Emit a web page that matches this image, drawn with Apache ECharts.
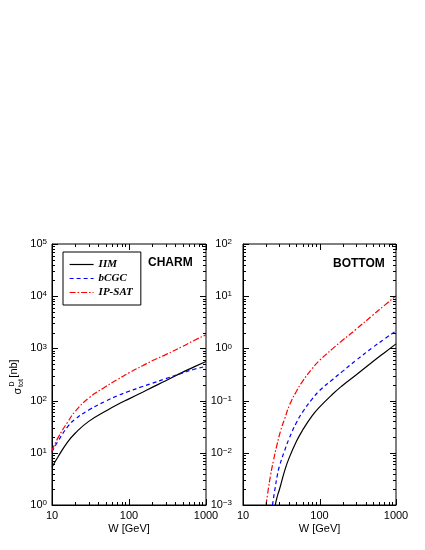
<!DOCTYPE html>
<html>
<head>
<meta charset="utf-8">
<script src="https://cdn.jsdelivr.net/npm/echarts@6/dist/echarts.min.js"></script>
<style>
  html, body { margin: 0; padding: 0; background: #fff; }
  #chart { width: 425px; height: 550px; }
</style>
</head>
<body>
<div id="chart"></div>
<script>
// charm panel (W in GeV, sigma in nb)
const charmW = [10, 12, 16, 20, 30, 50, 70, 100, 150, 200, 300, 500, 700, 1000]
const charmIIM = [5.3, 8.4, 16.2, 23.7, 40, 63, 83, 108, 145, 179, 240, 351, 442, 562]
const charmBCGC = [10.5, 16.8, 31.6, 44, 66, 98, 123, 151, 186, 214, 263, 339, 398, 452]
const charmIPSAT = [11, 19.5, 39, 62, 112, 186, 251, 340, 465, 578, 760, 1100, 1420, 1820]

// bottom panel, curves start where they leave the 1e-3 floor
const bottomW_IIM = [26.4, 28, 30, 35, 40, 50, 60, 80, 100, 150, 200, 300, 500, 700, 1000]
const bottomIIM = [0.001, 0.00145, 0.002, 0.0045, 0.0079, 0.0166, 0.027, 0.051, 0.075, 0.135, 0.195, 0.31, 0.56, 0.82, 1.22]
const bottomW_BCGC = [24.3, 26, 28, 30, 35, 40, 50, 60, 80, 100, 150, 200, 300, 500, 700, 1000]
const bottomBCGC = [0.001, 0.0019, 0.0036, 0.0056, 0.011, 0.0186, 0.038, 0.06, 0.107, 0.155, 0.257, 0.363, 0.59, 1.05, 1.5, 2.16]
const bottomW_IPSAT = [20, 21, 23, 25, 28, 31, 35, 41, 50, 60, 80, 100, 150, 200, 300, 500, 700, 1000]
const bottomIPSAT = [0.001, 0.00166, 0.0038, 0.0071, 0.0148, 0.0263, 0.0447, 0.085, 0.151, 0.234, 0.407, 0.589, 1.0, 1.43, 2.32, 4.37, 6.6, 10.2]

const seriesNames = ['IIM', 'bCGC', 'IP-SAT']
const panelTitles = ['CHARM', 'BOTTOM']
const xRange = [10, 1000]
const charmRange = [1, 1e5]
const bottomRange = [1e-3, 1e2]

const sans = 'Liberation Sans'
const pairs = (xs, ys) => xs.map((x, i) => [x, ys[i]])

// log tick values 1..9 x 10^k inside a range
const logTicks = (lo, hi) => {
  const out = []
  for (let k = Math.round(Math.log10(lo)); k < Math.round(Math.log10(hi)); k++) {
    for (let m = 1; m <= 9; m++) out.push(m * Math.pow(10, k))
  }
  out.push(hi)
  return out
}

const lineStyles = [
  { color: '#000000', width: 1.2, type: 'solid' },
  { color: '#0000ff', width: 1.2, type: [4, 3] },
  { color: '#ff0000', width: 1.2, type: [6, 2, 1.5, 2] }
]

const curve = (grid, idx, data) => ({
  name: seriesNames[idx],
  type: 'line',
  xAxisIndex: grid,
  yAxisIndex: grid,
  data: data,
  symbol: 'none',
  smooth: 0.5,
  lineStyle: lineStyles[idx],
  itemStyle: { color: lineStyles[idx].color },
  z: 3
})

// ticks drawn inside the frame on all four sides
const tickSeries = (grid, axis, vals, at) => ({
  type: 'custom',
  xAxisIndex: grid,
  yAxisIndex: grid,
  silent: true,
  z: 4,
  data: vals.map(v => axis === 'x' ? [v, at] : [at, v]),
  renderItem: (params, api) => {
    const cs = params.coordSys
    const v = api.value(axis === 'x' ? 0 : 1)
    const p = api.coord([api.value(0), api.value(1)])
    const lg = Math.log10(v)
    const len = Math.abs(lg - Math.round(lg)) < 1e-6 ? 6 : 3
    const style = { stroke: '#000', lineWidth: 1 }
    if (axis === 'x') {
      const x = Math.round(p[0]) + 0.5
      const b = cs.y + cs.height
      return { type: 'group', children: [
        { type: 'line', shape: { x1: x, y1: b, x2: x, y2: b - len }, style },
        { type: 'line', shape: { x1: x, y1: cs.y, x2: x, y2: cs.y + len }, style }
      ] }
    }
    const y = Math.round(p[1]) + 0.5
    const r = cs.x + cs.width
    return { type: 'group', children: [
      { type: 'line', shape: { x1: cs.x, y1: y, x2: cs.x + len, y2: y }, style },
      { type: 'line', shape: { x1: r, y1: y, x2: r - len, y2: y }, style }
    ] }
  }
})

const xAxisFor = (grid) => ({
  type: 'log',
  logBase: 10,
  gridIndex: grid,
  min: xRange[0],
  max: xRange[1],
  name: 'W [GeV]',
  nameLocation: 'middle',
  nameGap: 18,
  nameTextStyle: { fontFamily: sans, fontSize: 11, color: '#000' },
  axisLine: { lineStyle: { color: '#000', width: 1 } },
  axisTick: { show: false },
  splitLine: { show: false },
  axisLabel: {
    fontFamily: sans, fontSize: 11, color: '#000', margin: 5,
    formatter: v => String(Math.round(v))
  }
})

const yAxisFor = (grid, range, margin) => ({
  type: 'log',
  logBase: 10,
  gridIndex: grid,
  min: range[0],
  max: range[1],
  axisLine: { lineStyle: { color: '#000', width: 1 } },
  axisTick: { show: false },
  splitLine: { show: false },
  axisLabel: {
    margin: margin,
    formatter: v => '{b|10}{s|' + String(Math.round(Math.log10(v))).replace('-', '\u2212') + '}',
    rich: {
      b: { fontFamily: sans, fontSize: 11, color: '#000', lineHeight: 12 },
      s: { fontFamily: sans, fontSize: 8, color: '#000', lineHeight: 8, verticalAlign: 'top', padding: [0, 0, 2, 0] }
    }
  }
})

const chart = echarts.init(document.getElementById('chart'))

const option = {
  backgroundColor: '#ffffff',
  animation: false,
  grid: [
    { left: 52, top: 244, width: 154, height: 261, show: true, borderColor: '#000', borderWidth: 1, backgroundColor: 'transparent' },
    { left: 243, top: 244, width: 153, height: 261, show: true, borderColor: '#000', borderWidth: 1, backgroundColor: 'transparent' }
  ],
  xAxis: [xAxisFor(0), xAxisFor(1)],
  yAxis: [yAxisFor(0, charmRange, 5), yAxisFor(1, bottomRange, 11)],
  legend: {
    data: seriesNames,
    orient: 'vertical',
    left: 63,
    top: 252,
    itemWidth: 24,
    itemHeight: 10,
    itemGap: 3,
    padding: [7, 8, 7, 6],
    borderColor: '#000',
    borderWidth: 1,
    selectedMode: false,
    itemStyle: { opacity: 0 },
    lineStyle: { width: 1.2 },
    textStyle: { fontFamily: 'Liberation Serif', fontStyle: 'italic', fontWeight: 'bold', fontSize: 11, color: '#000' }
  },
  graphic: [
    {
      type: 'text', left: 148, top: 257,
      style: { text: panelTitles[0], font: 'bold 12px "Liberation Sans"', fill: '#000' }
    },
    {
      type: 'text', left: 333, top: 258,
      style: { text: panelTitles[1], font: 'bold 12px "Liberation Sans"', fill: '#000' }
    },
    {
      // rotated y axis title: sigma_tot^D [nb]
      type: 'group', x: 18, y: 378, rotation: Math.PI / 2,
      children: [
        { type: 'text', x: -13, y: -0.5, style: { text: '\u03c3', font: '11px "Liberation Sans"', fill: '#000', align: 'center', verticalAlign: 'middle', textAlign: 'center', textVerticalAlign: 'middle' } },
        { type: 'text', x: -5, y: 3, style: { text: 'tot', font: '7px "Liberation Sans"', fill: '#000', align: 'center', verticalAlign: 'middle', textAlign: 'center', textVerticalAlign: 'middle' } },
        { type: 'text', x: -6, y: -6, style: { text: 'D', font: '7px "Liberation Sans"', fill: '#000', align: 'center', verticalAlign: 'middle', textAlign: 'center', textVerticalAlign: 'middle' } },
        { type: 'text', x: 9.5, y: -4.5, style: { text: '[nb]', font: '11px "Liberation Sans"', fill: '#000', align: 'center', verticalAlign: 'middle', textAlign: 'center', textVerticalAlign: 'middle' } }
      ]
    }
  ],
  series: [
    curve(0, 0, pairs(charmW, charmIIM)),
    curve(0, 1, pairs(charmW, charmBCGC)),
    curve(0, 2, pairs(charmW, charmIPSAT)),
    curve(1, 0, pairs(bottomW_IIM, bottomIIM)),
    curve(1, 1, pairs(bottomW_BCGC, bottomBCGC)),
    curve(1, 2, pairs(bottomW_IPSAT, bottomIPSAT)),
    tickSeries(0, 'x', logTicks(xRange[0], xRange[1]), charmRange[0]),
    tickSeries(0, 'y', logTicks(charmRange[0], charmRange[1]), xRange[0]),
    tickSeries(1, 'x', logTicks(xRange[0], xRange[1]), bottomRange[0]),
    tickSeries(1, 'y', logTicks(bottomRange[0], bottomRange[1]), xRange[0])
  ]
}

chart.setOption(option)
</script>
</body>
</html>
